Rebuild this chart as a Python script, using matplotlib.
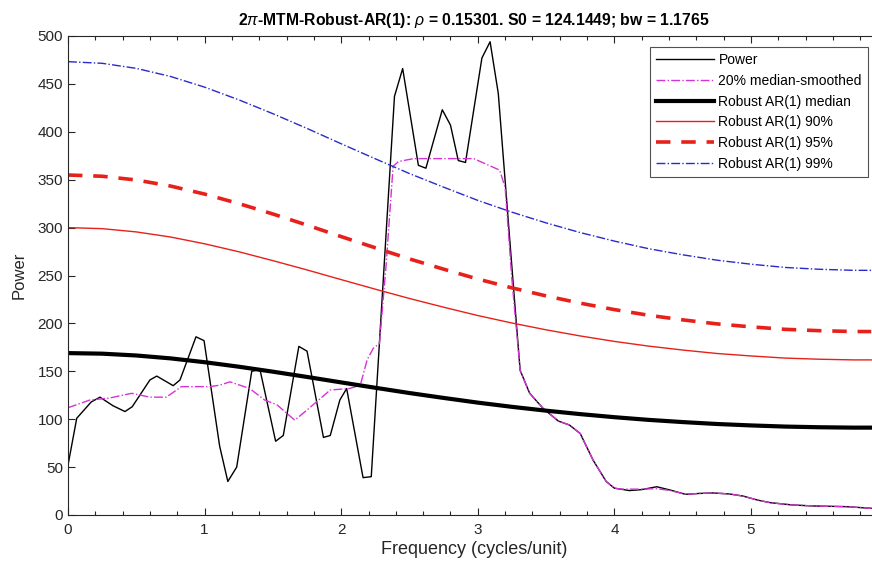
import matplotlib
matplotlib.use("Agg")
import matplotlib.pyplot as plt
from matplotlib.ticker import MultipleLocator

plt.rcParams['font.family'] = ['Liberation Sans', 'DejaVu Sans']
plt.rcParams['mathtext.fontset'] = 'custom'
plt.rcParams['mathtext.it'] = 'Liberation Sans:italic'

# raw power spectrum
power_freq = [0.00, 0.064, 0.17, 0.234, 0.33, 0.417, 0.47, 0.60, 0.65, 0.77,
              0.82, 0.937, 0.996, 1.11, 1.17, 1.235, 1.345, 1.405, 1.52, 1.576,
              1.69, 1.75, 1.87, 1.92, 1.99, 2.04, 2.16, 2.22, 2.39, 2.45,
              2.565, 2.62, 2.74, 2.80, 2.857, 2.91, 3.03, 3.09, 3.15, 3.26,
              3.31, 3.38, 3.48, 3.59, 3.67, 3.75, 3.845, 3.94, 4.00, 4.11,
              4.20, 4.31, 4.41, 4.52, 4.62, 4.72, 4.84, 4.94, 5.05, 5.14,
              5.30, 5.46, 5.60, 5.70, 5.88]
power_vals = [52, 101, 118, 123, 114, 108, 113, 141, 145, 135,
              141, 186, 182, 72, 35, 50, 150, 152, 77, 83,
              176, 171, 81, 83, 120, 132, 39, 40, 437, 466,
              365, 362, 423, 407, 370, 368, 477, 494, 440, 240,
              151, 127, 111, 98, 94, 85, 57, 35, 28, 25.5,
              26.5, 29.5, 26, 21.6, 22.5, 23, 22, 19.8, 15.5, 12.9,
              10.5, 9.4, 9, 8.7, 7]

# 20% median-smoothed spectrum
smooth_freq = [0.00, 0.16, 0.30, 0.466, 0.60, 0.72, 0.78, 0.83, 1.04, 1.11,
               1.186, 1.33, 1.44, 1.53, 1.66, 1.75, 1.92, 2.06, 2.14, 2.19,
               2.235, 2.28, 2.33, 2.38, 2.42, 2.53, 2.97, 3.16, 3.20, 3.25,
               3.31, 3.38, 3.48, 3.59, 3.67, 3.75, 3.845, 3.94, 4.00, 4.05,
               4.20, 4.31, 4.41, 4.52, 4.62, 4.72, 4.84, 4.94, 5.05, 5.14,
               5.30, 5.46, 5.60, 5.70, 5.88]
smooth_vals = [112, 120, 122, 127, 123, 123, 129, 134, 134, 135.5,
               139, 132, 120, 115, 99, 109.6, 130.5, 132, 135.5, 162,
               174, 179, 263, 364, 369, 372, 372, 360, 342, 245,
               151, 127, 111, 98, 94, 85, 57, 35, 28, 27,
               27, 27.5, 25.5, 21.6, 22.5, 23, 22, 19.8, 15.5, 12.9,
               10.5, 9.4, 9, 8.7, 7]

# robust AR(1) background and confidence levels
ar_freq = [0.00, 0.25, 0.50, 0.75, 1.00, 1.25, 1.50, 1.75, 2.00, 2.25,
           2.50, 2.75, 3.00, 3.25, 3.50, 3.75, 4.00, 4.25, 4.50, 4.75,
           5.00, 5.25, 5.50, 5.75, 5.88]
ar_median = [169.0, 168.4, 166.5, 163.5, 159.5, 154.8, 149.6, 144.1, 138.4, 132.8,
             127.3, 122.2, 117.3, 112.9, 108.9, 105.3, 102.1, 99.3, 97.0, 95.0,
             93.5, 92.3, 91.6, 91.2, 91.2]
ar_90 = [300.0, 298.9, 295.5, 290.2, 283.1, 274.8, 265.5, 255.8, 245.7, 235.7,
         226.0, 216.9, 208.2, 200.4, 193.3, 186.9, 181.2, 176.3, 172.2, 168.6,
         166.0, 163.8, 162.6, 161.9, 161.9]
ar_95 = [354.9, 353.6, 349.7, 343.4, 335.0, 325.1, 314.2, 302.6, 290.6, 278.9,
         267.3, 256.6, 246.3, 237.1, 228.7, 221.1, 214.4, 208.5, 203.7, 199.5,
         196.4, 193.8, 192.4, 191.5, 191.5]
ar_99 = [473.2, 471.5, 466.2, 457.8, 446.6, 433.4, 418.9, 403.5, 387.5, 371.8,
         356.4, 342.2, 328.4, 316.1, 304.9, 294.8, 285.9, 278.0, 271.6, 266.0,
         261.8, 258.4, 256.5, 255.4, 255.4]

fig = plt.figure(figsize=(8.72, 5.65), dpi=100)
# the original figure is cropped on the right, so the axes run past the edge
ax = fig.add_axes([68 / 872, 1 - 515 / 565, 812 / 872, 479 / 565])

ax.plot(power_freq, power_vals, color='black', lw=1, label='Power')
ax.plot(smooth_freq, smooth_vals, color='#d633d6', lw=1, ls='-.', label='20% median-smoothed')
ax.plot(ar_freq, ar_median, color='black', lw=3, label='Robust AR(1) median')
ax.plot(ar_freq, ar_90, color='#e8201a', lw=1, label='Robust AR(1) 90%')
ax.plot(ar_freq, ar_95, color='#e8201a', lw=2.6, dashes=(4, 3), label='Robust AR(1) 95%')
ax.plot(ar_freq, ar_99, color='#2a2acc', lw=1, ls='-.', label='Robust AR(1) 99%')

ax.set_xlim(0, 812 / 136.6)
ax.set_ylim(0, 500)
ax.xaxis.set_major_locator(MultipleLocator(1))
ax.xaxis.set_minor_locator(MultipleLocator(0.2))
ax.yaxis.set_major_locator(MultipleLocator(50))
ax.tick_params(which='both', direction='in', top=True, right=True,
               colors='#262626', labelsize=11, width=0.8)
ax.tick_params(which='major', length=5)
ax.tick_params(axis='x', which='major', pad=6)
ax.tick_params(which='minor', length=3)
for s in ax.spines.values():
    s.set_color('#262626')
    s.set_linewidth(0.8)

ax.set_xlabel('Frequency (cycles/unit)', fontsize=13, color='#262626', labelpad=3)
ax.set_ylabel('Power', fontsize=12, color='#262626', labelpad=8)
ax.set_title(r'2$\pi$-MTM-Robust-AR(1): $\rho$ = 0.15301. S0 = 124.1449; bw = 1.1765',
             fontsize=11.3, fontweight='bold', pad=8)

leg = ax.legend(loc='upper right', bbox_to_anchor=(868 / 872, 1 - 47 / 565),
                bbox_transform=fig.transFigure, borderaxespad=0,
                fontsize=10, frameon=True, fancybox=False,
                handlelength=4.2, handletextpad=0.3, labelspacing=0.48,
                borderpad=0.45)
leg.get_frame().set_edgecolor('#262626')
leg.get_frame().set_linewidth(0.8)

fig.savefig('out.png', dpi=100)
